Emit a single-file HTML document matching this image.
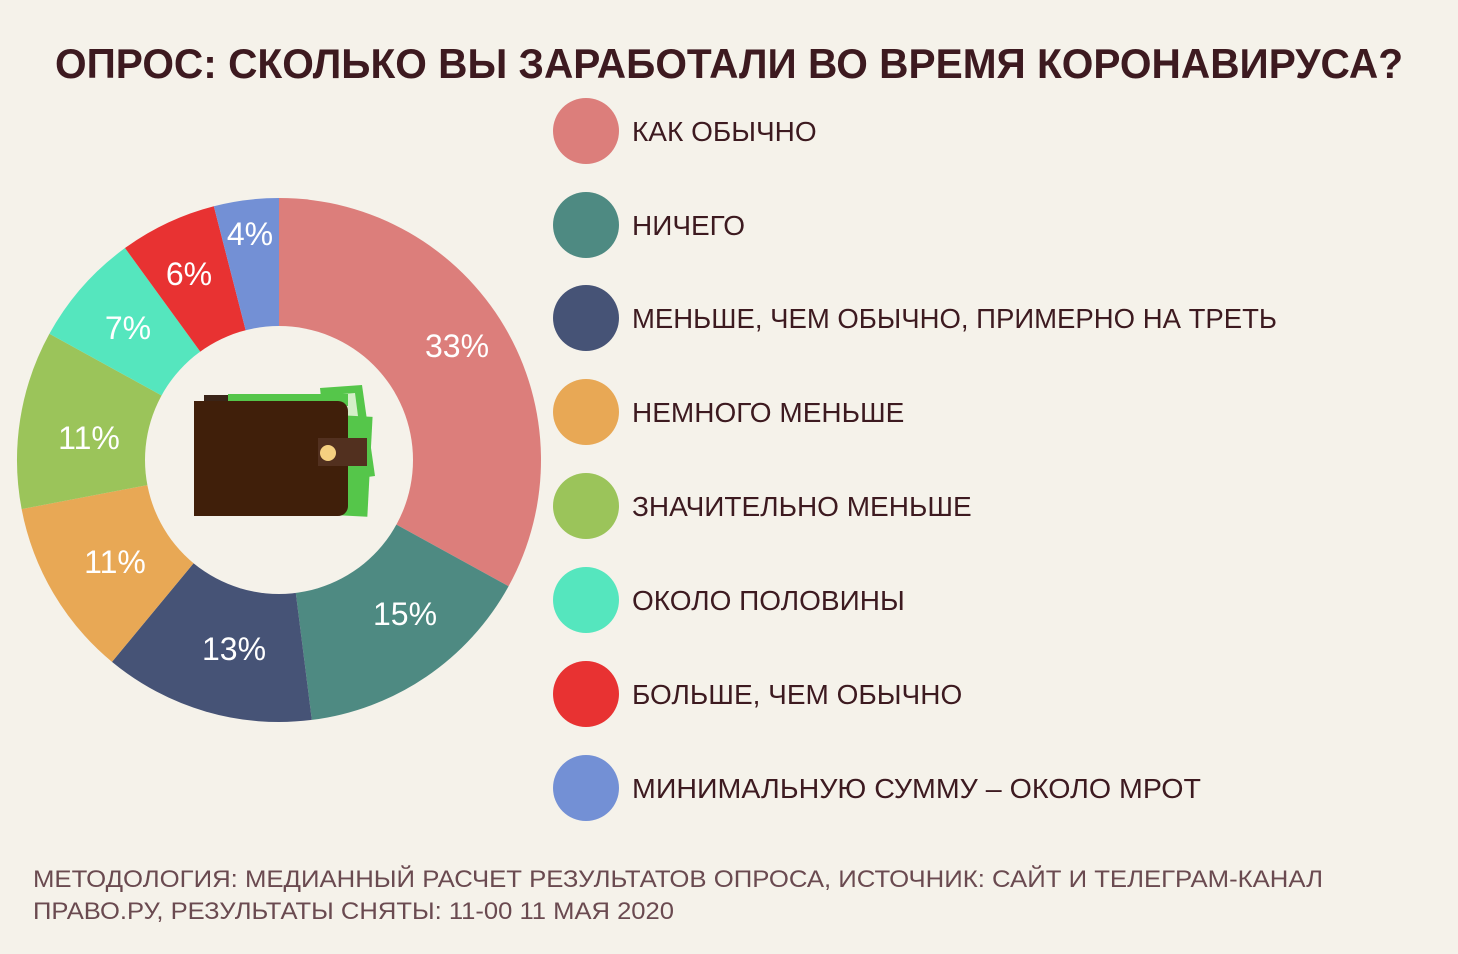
<!DOCTYPE html>
<html><head><meta charset="utf-8"><style>
body{margin:0;background:#f5f2ea;}
svg{display:block}
text{font-family:"Liberation Sans",sans-serif}
</style></head><body>
<svg width="1458" height="954" viewBox="0 0 1458 954" xmlns="http://www.w3.org/2000/svg">
<rect width="1458" height="954" fill="#f5f2ea"/>
<text x="55" y="78" font-size="42" font-weight="bold" fill="#3d1a20" textLength="1348" lengthAdjust="spacingAndGlyphs">ОПРОС: СКОЛЬКО ВЫ ЗАРАБОТАЛИ ВО ВРЕМЯ КОРОНАВИРУСА?</text>
<g id="pie"></g>
<circle cx="279" cy="460" r="134" fill="#f5f2ea"/>
<g>
<polygon points="320,388 362,385 375,476 330,482" fill="#55c64a"/>
<polygon points="330,395 355,393 365,470 336,474" fill="#d4efc8"/>
<rect x="300" y="415" width="70" height="100" fill="#55c64a" transform="rotate(3 335 465)"/>
<rect x="228" y="394" width="120" height="12" fill="#55c64a"/>
<rect x="204" y="395" width="24" height="10" fill="#3a2418"/>
<rect x="194" y="401" width="154" height="115" rx="10" fill="#401f0a"/>
<rect x="194" y="401" width="10" height="115" fill="#401f0a"/>
<rect x="318" y="438" width="49" height="28" fill="#52301f"/>
<circle cx="328" cy="453" r="8" fill="#f5d080"/>
</g>
<g font-size="32" fill="#fff" text-anchor="middle">
<text x="457" y="357">33%</text>
<text x="405" y="625">15%</text>
<text x="234" y="660">13%</text>
<text x="115" y="573">11%</text>
<text x="89" y="449">11%</text>
<text x="128" y="339">7%</text>
<text x="189" y="285">6%</text>
<text x="250" y="245">4%</text>
</g>
<g font-size="28" fill="#3d1a20">
<circle cx="586" cy="131" r="33" fill="#dc7e7b"/><text x="632" y="141">КАК ОБЫЧНО</text>
<circle cx="586" cy="225" r="33" fill="#4e8a82"/><text x="632" y="235">НИЧЕГО</text>
<circle cx="586" cy="318" r="33" fill="#465376"/><text x="632" y="328" textLength="645" lengthAdjust="spacingAndGlyphs">МЕНЬШЕ, ЧЕМ ОБЫЧНО, ПРИМЕРНО НА ТРЕТЬ</text>
<circle cx="586" cy="412" r="33" fill="#e8a855"/><text x="632" y="422">НЕМНОГО МЕНЬШЕ</text>
<circle cx="586" cy="506" r="33" fill="#9bc45a"/><text x="632" y="516">ЗНАЧИТЕЛЬНО МЕНЬШЕ</text>
<circle cx="586" cy="600" r="33" fill="#55e6be"/><text x="632" y="610">ОКОЛО ПОЛОВИНЫ</text>
<circle cx="586" cy="694" r="33" fill="#e83232"/><text x="632" y="704">БОЛЬШЕ, ЧЕМ ОБЫЧНО</text>
<circle cx="586" cy="788" r="33" fill="#7390d5"/><text x="632" y="798" textLength="569" lengthAdjust="spacingAndGlyphs">МИНИМАЛЬНУЮ СУММУ – ОКОЛО МРОТ</text>
</g>
<g font-size="24" fill="#6a4a50">
<text x="33" y="887" textLength="1290" lengthAdjust="spacingAndGlyphs">МЕТОДОЛОГИЯ: МЕДИАННЫЙ РАСЧЕТ РЕЗУЛЬТАТОВ ОПРОСА, ИСТОЧНИК: САЙТ И ТЕЛЕГРАМ-КАНАЛ</text>
<text x="33" y="919" textLength="641" lengthAdjust="spacingAndGlyphs">ПРАВО.РУ, РЕЗУЛЬТАТЫ СНЯТЫ: 11-00 11 МАЯ 2020</text>
</g>
</svg>
<script>
var d=[[33,"#dc7e7b"],[15,"#4e8a82"],[13,"#465376"],[11,"#e8a855"],[11,"#9bc45a"],[7,"#55e6be"],[6,"#e83232"],[4,"#7390d5"]];
var cx=279,cy=460,r=262,a=0,g=document.getElementById("pie"),s="";
d.forEach(function(e){var a2=a+e[0]*3.6;
function p(t){var rad=(t-90)*Math.PI/180;return (cx+r*Math.cos(rad)).toFixed(2)+","+(cy+r*Math.sin(rad)).toFixed(2);}
s+='<path d="M'+cx+','+cy+' L'+p(a)+' A'+r+','+r+' 0 '+(a2-a>180?1:0)+' 1 '+p(a2)+' Z" fill="'+e[1]+'"/>';a=a2;});
g.innerHTML=s;
</script>
</body></html>
